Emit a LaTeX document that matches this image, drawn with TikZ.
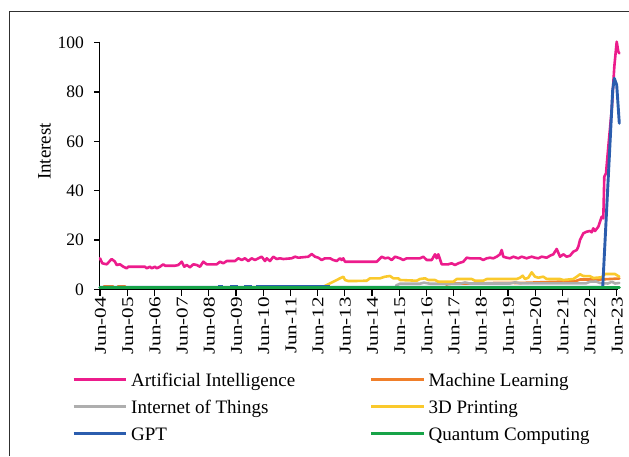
\documentclass[tikz,border=0pt]{standalone}
\usepackage{fontspec}
\setmainfont{Liberation Serif}
\usepackage{graphicx}
\definecolor{aipink}{HTML}{EC1C8C}
\definecolor{mlorange}{HTML}{F07F2A}
\definecolor{iotgray}{HTML}{AEAEAE}
\definecolor{printyellow}{HTML}{FAC92C}
\definecolor{gptblue}{HTML}{2B5DAE}
\definecolor{qcgreen}{HTML}{17A348}
\definecolor{framegray}{HTML}{303030}

\begin{document}
\begin{tikzpicture}[x=1pt,y=-1pt,
  every node/.style={inner sep=0pt},
  series/.style={line width=2.6pt, line join=round, line cap=round},
  axisline/.style={line width=1.2pt, black},
  tickmark/.style={line width=1.1pt, black},
  ylab/.style={anchor=east, font=\fontsize{17.5}{20}\selectfont},
  xlab/.style={anchor=east, rotate=90, font=\fontsize{16.5}{19}\selectfont},
  keyline/.style={line width=2.4pt},
  keytext/.style={anchor=base west, font=\fontsize{19}{22}\selectfont}]

\useasboundingbox (0,0) rectangle (629,456);

% open frame: left and top edges only
\draw[framegray, line width=1pt] (9,456) -- (9,11.5) -- (629,11.5);

% axes
\coordinate (origin) at (99.5,289.3);
\coordinate (ytop) at (99.5,41.7);
\coordinate (xend) at (617.5,289.3);
\draw[axisline] (ytop) -- (origin) -- (xend);

% y ticks and labels
\foreach \v/\yy in {0/289.3,20/240,40/190.7,60/141.3,80/92,100/42.7}{
  \draw[tickmark] (99.5,\yy) -- (94,\yy);
  \node[ylab] (y\v) at (84,\yy) {\v};
}
\node[rotate=90, font=\fontsize{19}{22}\selectfont] (ytitle) at (44.5,151.4) {Interest};

% x ticks and labels
\foreach \k/\lab in {0/04,1/05,2/06,3/07,4/08,5/09,6/10,7/11,8/12,9/13,10/14,11/15,12/16,13/17,14/18,15/19,16/20,17/21,18/22,19/23}{
  \pgfmathsetmacro{\xx}{100+27.2*\k}
  \draw[tickmark] (\xx,289.3) -- (\xx,295.5);
  \node[xlab] (x\lab) at (\xx+0.5,297) {\scalebox{1.28}[1]{Jun-\lab}};
}

% Artificial Intelligence
\draw[series, aipink] (100,258.3) -- (102.3,263.3) -- (106.7,264.3) -- (111.7,259) -- (115,261.7) -- (116.7,265) -- (120,264.3) -- (123.3,266.7) -- (126.7,268.3) -- (128.3,266.7) -- (145,266.7) -- (146.7,268.3) -- (150,266.7) -- (151.7,268.3) -- (155,266.7) -- (156.7,268.3) -- (160,266.7) -- (163.3,264.3) -- (165,265.7) -- (175,265.7) -- (178.3,265) -- (181.7,261.7) -- (184.3,266.7) -- (186.7,265) -- (190,267.3) -- (193.3,264.3) -- (196.7,265) -- (200,266.7) -- (203.3,261.7) -- (206.7,264.3) -- (216.7,264.3) -- (220,261.7) -- (223.3,263.3) -- (226.7,261) -- (235,261) -- (238.3,258.3) -- (241.7,260) -- (245,258.3) -- (248.3,261) -- (251.7,258.3) -- (255,260) -- (258.3,258.3) -- (261.7,256.7) -- (265,261) -- (266.7,258.3) -- (270,261) -- (273.3,256.7) -- (276.7,259) -- (280,258.3) -- (283.3,259) -- (291.7,258.3) -- (295,256.7) -- (298.3,257.7) -- (308.3,256.7) -- (311.7,254) -- (315,256.7) -- (318.3,257.7) -- (321.7,260) -- (325,258.3) -- (330,258.3) -- (333.3,260) -- (336.7,261) -- (340,258.3) -- (341.7,260) -- (343.3,258.3) -- (345,261.7) -- (376.7,261.7) -- (381.7,256.7) -- (385,258.3) -- (388.3,257.7) -- (391.7,260) -- (395,256.7) -- (400,258.3) -- (403.3,260) -- (406.7,258.3) -- (420,258.3) -- (423.3,256.7) -- (426.7,260) -- (431.7,260) -- (435,254.3) -- (436.7,258.3) -- (438.3,254.3) -- (441.7,264.3) -- (448.3,264.3) -- (451.7,263.3) -- (455,265) -- (458.3,263.3) -- (463.3,261.7) -- (466.7,257.7) -- (470,258.3) -- (480,258.3) -- (483.3,260) -- (486.7,258.3) -- (490,257.7) -- (493.3,258.3) -- (496.7,256.7) -- (500,254.3) -- (501.7,250) -- (503.3,256.7) -- (506.7,257.7) -- (510,258.3) -- (513.3,256.7) -- (518.3,258.3) -- (521.7,256.7) -- (526.7,258.3) -- (528.3,257.7) -- (531.7,256.7) -- (535,257.7) -- (538.3,258.3) -- (541.7,256.7) -- (546.7,257.7) -- (550,255.7) -- (553.3,254.3) -- (556.7,249) -- (560,256.7) -- (563.3,254.3) -- (566.7,256.7) -- (570,255.7) -- (573.3,251.7) -- (576.7,250) -- (578.3,246.7) -- (580,240) -- (583.3,233.3) -- (586.7,231.7) -- (590,231) -- (591.7,232.3) -- (593.3,228.3) -- (595,231) -- (598.3,226.7) -- (600,221.7) -- (601.7,216.7) -- (603.3,218.3) -- (604.3,176.7) -- (606,173.3) -- (608.3,146.7) -- (611.7,110) -- (614.3,66.7) -- (616.7,41.7) -- (618.3,51.7) -- (619.3,53.3);

% Machine Learning
\draw[series, mlorange] (104,285.8) -- (113,285.8);
\draw[series, mlorange] (118,285.8) -- (125,285.8);
\draw[series, mlorange] (446,284.5) -- (452,283.5) -- (480,283.5) -- (500,282.8) -- (520,283) -- (540,282.3) -- (560,281.7) -- (575,281.3) -- (580,279.5) -- (600,279.5) -- (619.3,278.5);

% Internet of Things
\draw[series, iotgray] (396,285.5) -- (400,283.7) -- (420,283.7) -- (424,282.7) -- (430,283.7) -- (460,283.7) -- (465,282.5) -- (470,283.5) -- (510,283.5) -- (515,282.3) -- (520,283.3) -- (586,283.3) -- (590,281.7) -- (596,281.5) -- (600,283) -- (608,283.5) -- (612,281.7) -- (615,283.5) -- (619.3,283);

% 3D Printing
\draw[series, printyellow] (322,287.3) -- (326.7,285) -- (333.3,281.7) -- (336.7,280) -- (340,278.3) -- (343.3,276.7) -- (345,280) -- (348.3,281) -- (355,281) -- (366.7,280.7) -- (370,278.3) -- (380,278.3) -- (385,276.7) -- (390,276) -- (393.3,278.3) -- (398.3,278.3) -- (400,280) -- (416.7,280.7) -- (420,279) -- (425,278.3) -- (428.3,280) -- (435,280) -- (438.3,281.7) -- (453.3,281.7) -- (456.7,279) -- (471.7,279) -- (475,280.7) -- (483.3,280.7) -- (486.7,279) -- (516.7,279) -- (520,277.7) -- (522.7,275.7) -- (525,279) -- (528.3,277.7) -- (531.7,272.3) -- (535,276.7) -- (538.3,277.7) -- (543.3,276.7) -- (546.7,279) -- (560,279) -- (563.3,280) -- (573.3,279) -- (576.7,276.7) -- (580,274.3) -- (583.3,276) -- (590,276.2) -- (593.3,278) -- (601.7,277.3) -- (605,274) -- (615,274) -- (619.3,276.7);

% GPT: faint early readings just above zero, then the late surge
\foreach \a/\b in {218/223,230/238,244/252,256/330}{
  \draw[gptblue, line width=1.6pt] (\a,285.9) -- (\b,285.9);
}
\draw[series, line width=2.9pt, gptblue] (100,287.3) -- (602.7,287.3) -- (612.7,90) -- (614.3,78.3) -- (616.7,85) -- (619.3,123.3);

% Quantum Computing
\draw[series, line width=3.3pt, qcgreen] (100,287.4) -- (619.3,287.4);

% legend
\foreach \name/\col/\lx/\ly/\txt in {
  kai/aipink/73.5/379.5/{Artificial Intelligence},
  kml/mlorange/371/379.5/{Machine Learning},
  kiot/iotgray/73.5/406.5/{Internet of Things},
  kpr/printyellow/371/406.5/{3D Printing},
  kgpt/gptblue/73.5/433.5/{GPT},
  kqc/qcgreen/371/433.5/{Quantum Computing}}{
  \coordinate (\name a) at (\lx,\ly);
  \coordinate (\name b) at (\lx+52.5,\ly);
  \draw[keyline, \col] (\name a) -- (\name b);
  \node[keytext] (\name t) at (\lx+57.5,\ly+6.5) {\txt};
}
\end{tikzpicture}
\end{document}
